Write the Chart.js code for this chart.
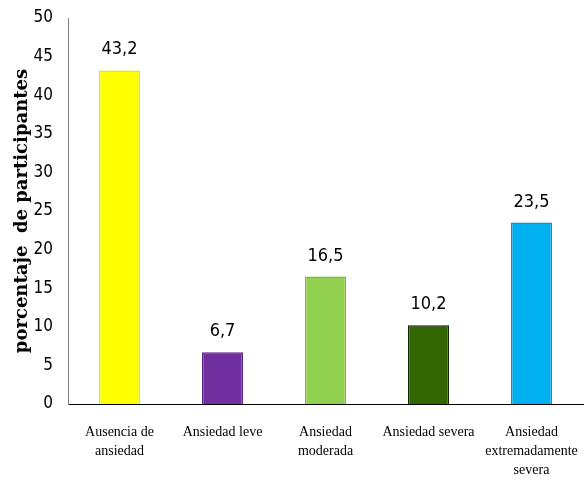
<!DOCTYPE html>
<html>
<head>
<meta charset="utf-8">
<script src="https://cdn.jsdelivr.net/npm/chart.js@4/dist/chart.umd.min.js"></script>
<style>
  html, body { margin: 0; padding: 0; background: #fff; }
  #wrap { width: 587px; height: 480px; }
</style>
</head>
<body>
<div id="wrap"><canvas id="myBar" width="587" height="480"></canvas></div>
<script>
const categories = [
    ['Ausencia de', 'ansiedad'],
    'Ansiedad leve',
    ['Ansiedad', 'moderada'],
    'Ansiedad severa',
    ['Ansiedad', 'extremadamente', 'severa']
]
const percentages = [43.2, 6.7, 16.5, 10.2, 23.5]
const barColors = ['#FFFF00', '#7030A0', '#92D050', '#336600', '#00B0F0']
const borderColors = ['#E6E600', '#5A2585', '#7DB83E', '#0F2600', '#0098D4']

// draws "43,2" style labels above each bar
const valueLabels = {
    id: 'valueLabels',
    afterDatasetsDraw(chart) {
        let ctx = chart.ctx
        let meta = chart.getDatasetMeta(0)
        ctx.save()
        ctx.fillStyle = '#000'
        ctx.font = '18px "Liberation Sans Narrow", "DejaVu Sans Condensed", sans-serif'
        ctx.textAlign = 'center'
        ctx.textBaseline = 'alphabetic'
        meta.data.forEach((bar, i) => {
            ctx.fillText(percentages[i].toFixed(1).replace('.', ','), bar.x, bar.y - 16)
        })
        ctx.restore()
    }
}

let ctx = document.querySelector('#myBar').getContext('2d')
let myBarChart = new Chart(ctx, {
    type: 'bar',
    data: {
        labels: categories,
        datasets: [{
            data: percentages,
            backgroundColor: barColors,
            borderColor: borderColors,
            borderWidth: 1.5,
            barPercentage: 0.4,
            categoryPercentage: 1
        }]
    },
    options: {
        responsive: false,
        animation: false,
        layout: { padding: { top: 18, right: 4, left: 12, bottom: 0 } },
        plugins: { legend: { display: false }, tooltip: { enabled: false } },
        scales: {
            x: {
                grid: { display: false, drawTicks: false },
                border: { color: '#000', width: 1 },
                ticks: {
                    color: '#000',
                    padding: 19,
                    maxRotation: 0,
                    autoSkip: false,
                    font: { family: '"Liberation Serif", serif', size: 14, lineHeight: 1.35 }
                },
                afterFit(scale) {
                    scale.height = 76
                    scale.paddingLeft = 0
                    scale.paddingRight = 0
                }
            },
            y: {
                min: 0,
                max: 50,
                grid: { display: false, drawTicks: false },
                border: { color: '#808080', width: 1 },
                ticks: {
                    stepSize: 5,
                    color: '#000',
                    padding: 15,
                    font: { family: '"Liberation Sans Narrow", "DejaVu Sans Condensed", sans-serif', size: 17 }
                },
                title: {
                    display: true,
                    text: 'porcentaje  de participantes',
                    color: '#000',
                    padding: { top: 0, bottom: 2 },
                    font: { family: '"DejaVu Serif", serif', size: 18, weight: 'bold' }
                },
                afterFit(scale) {
                    scale.width = 56
                    scale.paddingTop = 0
                    scale.paddingBottom = 0
                }
            }
        }
    },
    plugins: [valueLabels]
})
</script>
</body>
</html>
